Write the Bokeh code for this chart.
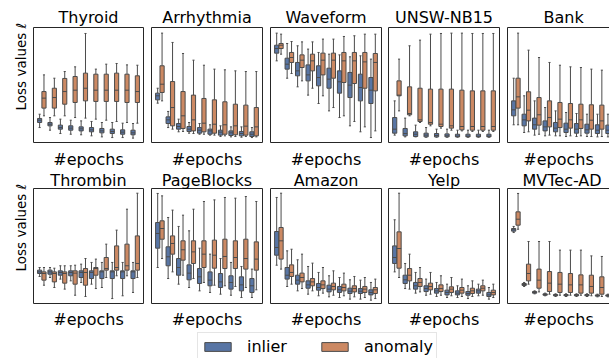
import numpy as np
from bokeh.plotting import figure
from bokeh.layouts import gridplot, column
from bokeh.models import ColumnDataSource, FixedTicker, Range1d, Legend, LegendItem, LinearAxis, Title
from bokeh.embed import file_html
from bokeh.resources import INLINE

# ---------------- data (lo whisker, Q1, median, Q3, hi whisker) per epoch ----------------
EPOCHS = [0, 1, 2, 3, 4, 5, 6, 7, 8, 9]
DATASETS = ["Thyroid", "Arrhythmia", "Waveform", "UNSW-NB15", "Bank",
            "Thrombin", "PageBlocks", "Amazon", "Yelp", "MVTec-AD"]
SERIES = ["inlier", "anomaly"]
COLORS = ["#5875a4", "#cc8963"]

THYROID_IN = [(13.0, 17.4, 19.4, 20.9, 24.6), (10.7, 14.5, 15.9, 17.4, 21.7), (7.8, 11.6, 13.0, 15.1, 20.3),
              (7.2, 10.7, 12.5, 14.5, 19.4), (6.7, 10.1, 11.9, 13.6, 18.8), (5.8, 9.3, 11.0, 13.0, 18.3),
              (4.9, 8.4, 10.1, 12.2, 17.4), (4.3, 7.8, 9.6, 11.6, 17.4), (4.3, 7.2, 9.0, 11.0, 16.8),
              (3.8, 6.7, 8.4, 10.7, 16.5)]
THYROID_AN = [(23.2, 29.9, 38.6, 44.3, 58.8), (23.2, 29.9, 39.1, 47.2, 55.9), (23.2, 33.3, 44.3, 55.7, 61.7),
              (21.7, 34.8, 45.5, 57.4, 65.8), (21.2, 36.2, 47.2, 60.3, 94.8), (20.3, 35.7, 45.5, 59.4, 63.8),
              (19.4, 35.7, 45.5, 59.4, 68.1), (18.3, 35.7, 45.5, 60.3, 68.7), (17.4, 34.8, 45.5, 59.4, 67.5),
              (16.8, 34.8, 44.3, 58.0, 67.2)]
ARRHYTHMIA_IN = [(34.2, 37.1, 40.6, 42.9, 47.2), (13.0, 16.5, 19.7, 22.3, 27.0), (9.3, 11.6, 13.9, 16.5, 20.3),
                 (8.1, 9.6, 11.6, 13.9, 17.4), (7.2, 8.1, 10.7, 13.0, 16.5), (6.4, 7.2, 10.1, 11.6, 15.4),
                 (5.2, 6.4, 9.0, 10.7, 14.5), (4.9, 6.1, 8.4, 10.1, 13.6), (4.6, 5.8, 7.8, 9.6, 13.6),
                 (4.3, 5.2, 7.2, 9.3, 13.0)]
ARRHYTHMIA_AN = [(36.2, 43.5, 50.7, 66.7, 95.1), (11.6, 14.5, 30.4, 53.0, 87.0), (9.6, 12.2, 23.2, 44.3, 77.4),
                 (7.8, 10.1, 19.7, 41.2, 71.6), (7.2, 9.3, 16.8, 38.3, 67.2), (6.4, 8.1, 15.9, 37.1, 63.8),
                 (5.8, 7.2, 15.4, 35.4, 63.2), (5.2, 6.7, 14.5, 33.3, 62.3), (5.2, 6.4, 14.2, 32.5, 61.7),
                 (4.9, 5.8, 13.6, 30.4, 61.7)]
WAVEFORM_IN = [(71.0, 77.7, 81.7, 84.6, 95.1), (55.9, 63.8, 68.1, 73.3, 86.1), (48.4, 58.0, 62.3, 69.6, 84.1),
               (41.2, 53.6, 58.8, 67.5, 81.2), (33.9, 49.3, 56.5, 66.7, 78.3), (27.5, 47.2, 55.1, 64.6, 76.8),
               (21.7, 42.9, 52.8, 62.3, 76.2), (14.5, 39.1, 49.9, 60.9, 74.5), (9.3, 36.2, 47.8, 59.4, 75.4),
               (4.3, 33.9, 45.5, 56.5, 72.5)]
WAVEFORM_AN = [(76.8, 81.7, 84.6, 86.1, 94.2), (60.0, 69.6, 73.9, 78.3, 87.8), (53.6, 65.2, 71.6, 76.2, 87.5),
               (47.2, 62.3, 71.0, 76.8, 87.5), (40.6, 58.8, 71.6, 77.7, 89.9), (30.4, 55.9, 71.6, 77.7, 89.9),
               (23.2, 52.2, 71.0, 78.3, 92.2), (18.3, 51.3, 71.0, 78.3, 92.8), (13.6, 47.2, 70.1, 78.3, 94.2),
               (10.1, 44.9, 69.6, 77.4, 94.2)]
UNSW_IN = [(6.4, 8.1, 11.6, 21.7, 36.2), (4.9, 5.8, 7.8, 12.2, 21.2), (4.9, 5.2, 7.2, 9.3, 15.1),
           (4.6, 4.9, 6.4, 8.1, 13.0), (4.6, 4.9, 6.1, 7.8, 11.6), (4.6, 4.9, 5.8, 7.5, 11.6),
           (4.6, 4.9, 5.5, 7.2, 10.7), (4.6, 4.9, 5.5, 7.2, 10.7), (4.6, 4.9, 5.5, 7.2, 10.7),
           (4.6, 4.9, 5.5, 7.2, 10.7)]
UNSW_AN = [(27.5, 40.6, 41.2, 53.6, 72.5), (23.2, 24.1, 25.2, 48.4, 84.1), (17.4, 18.3, 19.7, 47.2, 89.0),
           (14.5, 15.9, 17.4, 46.4, 94.2), (12.5, 13.9, 15.9, 46.4, 94.8), (10.7, 12.5, 14.5, 46.4, 95.1),
           (10.1, 11.0, 13.9, 45.5, 95.1), (9.6, 10.7, 13.9, 44.9, 94.8), (9.6, 10.7, 13.9, 44.9, 94.8),
           (9.6, 10.7, 13.9, 44.9, 94.8)]
BANK_IN = [(15.4, 23.2, 28.4, 36.2, 55.9), (8.7, 14.5, 19.7, 24.6, 40.6), (6.4, 11.6, 15.4, 21.2, 36.2),
           (5.8, 10.1, 13.6, 18.8, 30.4), (5.8, 9.3, 12.5, 17.4, 27.5), (5.2, 8.7, 11.6, 16.8, 26.1),
           (5.2, 8.1, 11.6, 16.5, 25.2), (5.2, 8.1, 11.0, 15.9, 24.6), (4.9, 7.8, 10.7, 15.4, 24.6),
           (4.9, 7.8, 10.7, 15.1, 24.6)]
BANK_AN = [(15.4, 29.9, 39.7, 55.9, 95.1), (9.3, 18.8, 28.1, 44.1, 80.3), (7.2, 15.1, 24.1, 39.1, 73.9),
           (6.4, 13.6, 21.7, 36.2, 69.6), (5.8, 13.0, 20.3, 34.8, 67.2), (5.8, 12.5, 19.7, 33.9, 65.8),
           (5.8, 12.2, 19.7, 33.3, 65.2), (5.2, 11.6, 19.4, 32.8, 63.8), (5.2, 11.6, 18.8, 32.5, 62.9),
           (5.2, 11.6, 18.8, 31.9, 62.3)]
THROMBIN_IN = [(23.5, 26.1, 27.5, 29.0, 31.3), (22.6, 25.5, 27.5, 29.0, 31.3), (21.2, 24.6, 27.0, 28.4, 32.8),
               (19.7, 24.1, 27.0, 28.4, 32.8), (18.3, 22.6, 27.0, 28.4, 34.2), (16.8, 21.7, 27.0, 28.4, 35.7),
               (13.9, 21.7, 27.5, 28.4, 35.7), (4.3, 21.7, 27.5, 28.4, 35.7), (6.7, 21.7, 27.5, 28.4, 35.7),
               (9.6, 21.7, 27.5, 28.4, 35.7)]
THROMBIN_AN = [(15.9, 20.3, 26.1, 27.5, 31.3), (13.9, 18.8, 26.1, 27.5, 30.7), (12.5, 17.7, 26.1, 27.5, 32.8),
               (7.2, 16.8, 26.4, 28.4, 33.3), (6.1, 15.9, 27.0, 30.4, 39.1), (13.0, 24.6, 30.4, 31.3, 38.6),
               (22.6, 29.0, 30.4, 40.0, 51.6), (24.1, 29.0, 31.3, 50.1, 63.8), (24.1, 29.0, 32.8, 51.6, 82.0),
               (22.6, 29.0, 34.8, 58.8, 95.9)]
PAGEBLOCKS_IN = [(31.3, 48.1, 60.9, 70.4, 95.7), (21.7, 32.8, 40.6, 49.3, 74.8), (16.8, 24.6, 31.3, 39.1, 67.0),
                 (13.9, 20.6, 26.4, 33.6, 63.2), (11.0, 17.4, 23.2, 30.4, 48.1), (9.6, 15.4, 20.3, 27.5, 42.9),
                 (8.1, 13.9, 18.8, 26.1, 39.1), (7.2, 12.5, 18.3, 24.1, 35.7), (5.2, 11.0, 16.2, 23.2, 32.2),
                 (5.2, 9.6, 15.4, 21.7, 29.9)]
PAGEBLOCKS_AN = [(39.1, 55.9, 65.2, 71.9, 93.6), (27.5, 42.9, 52.2, 58.8, 81.2), (24.6, 37.7, 46.7, 54.5, 76.8),
                 (21.7, 34.8, 44.9, 54.5, 82.0), (18.3, 31.3, 42.9, 54.5, 88.7), (15.9, 30.7, 42.0, 55.1, 90.1),
                 (15.4, 30.4, 40.9, 55.9, 92.2), (14.8, 30.4, 40.0, 54.5, 91.6), (13.9, 29.9, 39.1, 55.9, 93.0),
                 (11.9, 29.0, 38.6, 53.6, 88.7)]
AMAZON_IN = [(33.3, 42.0, 48.7, 62.6, 92.2), (14.8, 21.2, 24.6, 31.3, 45.8), (11.0, 16.8, 20.3, 24.6, 38.0),
             (8.1, 13.3, 16.2, 19.7, 32.2), (6.7, 11.6, 13.9, 17.4, 27.0), (5.8, 10.1, 12.5, 15.9, 24.1),
             (5.2, 9.6, 11.9, 14.8, 22.6), (3.8, 8.7, 10.7, 13.3, 20.6), (3.8, 8.7, 10.7, 13.0, 20.3),
             (2.9, 7.5, 9.6, 11.9, 18.3)]
AMAZON_AN = [(29.9, 38.6, 54.5, 66.1, 95.9), (16.8, 23.5, 27.0, 33.6, 47.2), (13.0, 18.8, 22.6, 26.4, 42.9),
             (11.0, 15.4, 18.8, 21.7, 35.1), (9.0, 13.0, 16.2, 19.7, 31.3), (7.2, 11.9, 14.8, 17.7, 28.4),
             (6.7, 11.0, 13.9, 16.8, 26.4), (5.8, 10.1, 13.0, 15.4, 23.5), (5.2, 9.6, 12.5, 14.8, 22.6),
             (4.3, 8.7, 11.9, 13.9, 21.2)]
YELP_IN = [(27.5, 34.8, 40.0, 50.1, 72.8), (13.0, 17.4, 20.6, 24.6, 34.8), (9.0, 12.5, 15.4, 18.3, 27.0),
           (7.2, 10.4, 13.0, 15.4, 21.2), (6.1, 9.0, 11.0, 13.0, 18.3), (5.2, 7.5, 9.6, 11.6, 16.8),
           (5.2, 7.5, 9.0, 11.0, 15.4), (4.3, 7.2, 8.7, 10.4, 15.4), (6.7, 9.0, 11.0, 12.5, 16.8),
           (3.8, 6.1, 7.5, 9.6, 13.9)]
YELP_AN = [(22.6, 30.7, 47.8, 62.3, 95.9), (12.5, 19.7, 24.6, 30.4, 42.9), (10.1, 14.8, 18.3, 21.7, 31.3),
           (8.1, 11.9, 14.8, 17.7, 27.0), (7.2, 10.4, 13.0, 16.2, 24.1), (6.7, 9.6, 12.5, 14.5, 22.6),
           (6.1, 9.0, 11.6, 13.9, 21.2), (6.1, 8.7, 11.0, 13.3, 19.7), (7.2, 11.0, 13.3, 15.4, 20.3),
           (5.2, 7.5, 9.6, 11.6, 16.8)]
MVTEC_IN = [(61.7, 62.9, 64.1, 65.2, 67.0), (14.8, 15.7, 16.5, 17.4, 18.3), (8.4, 9.0, 9.6, 10.4, 11.0),
            (6.7, 7.2, 7.8, 8.4, 9.0), (6.1, 6.7, 7.2, 7.8, 8.4), (6.1, 6.7, 7.2, 7.8, 8.4),
            (6.1, 6.7, 7.2, 7.8, 8.4), (6.1, 6.7, 7.2, 7.8, 8.4), (5.8, 6.4, 7.0, 7.5, 8.1),
            (5.8, 6.4, 7.0, 7.5, 8.1)]
MVTEC_AN = [(64.6, 68.1, 73.3, 79.7, 95.7), (16.8, 19.7, 26.1, 34.2, 53.9), (10.1, 13.3, 20.3, 29.9, 53.9),
            (8.1, 10.4, 17.7, 27.8, 53.9), (7.2, 9.6, 16.8, 27.0, 46.4), (7.2, 9.6, 16.2, 26.1, 46.4),
            (7.2, 9.0, 16.2, 24.9, 46.4), (6.7, 9.0, 14.8, 24.6, 41.4), (6.1, 8.1, 13.9, 23.2, 40.9),
            (6.1, 8.1, 13.9, 23.2, 40.0)]

PANEL_DATA = [(THYROID_IN, THYROID_AN), (ARRHYTHMIA_IN, ARRHYTHMIA_AN), (WAVEFORM_IN, WAVEFORM_AN),
              (UNSW_IN, UNSW_AN), (BANK_IN, BANK_AN), (THROMBIN_IN, THROMBIN_AN),
              (PAGEBLOCKS_IN, PAGEBLOCKS_AN), (AMAZON_IN, AMAZON_AN), (YELP_IN, YELP_AN),
              (MVTEC_IN, MVTEC_AN)]

# ---------------- styling / layout ----------------
FONT = "DejaVu Sans"
LINE = "#4b4b4b"
OUTLINE = "#262626"
FRAME_W = [110, 111, 111, 111, 102]
FRAME_H = 115
X_RANGES = [(-0.8, 9.8)] * 4 + [(-0.8, 8.94)]
MIN_LEFT = [33, 4, 4, 3, 4]
MIN_RIGHT = [4, 4, 4, 4, 0]
MIN_TOP = [27, 0]
MIN_BOTTOM = [0, 0]
TITLE_STANDOFF = [0, -4]
XLABEL_STANDOFF = [7, 6]
TITLE_OFFSET_LAST = {"Bank": 36, "MVTec-AD": 15}
DODGE = 0.21
BOXW = 0.4


def box_source(stats, offset):
    a = np.array(stats, dtype=float)
    x = np.array(EPOCHS, dtype=float) + offset
    return ColumnDataSource(dict(x=x, lo=a[:, 0], q1=a[:, 1], med=a[:, 2], q3=a[:, 3], hi=a[:, 4],
                                 cl=x - BOXW / 4, cr=x + BOXW / 4, ml=x - BOXW / 2, mr=x + BOXW / 2))


def no_ticks(ax):
    ax.ticker = FixedTicker(ticks=[])
    ax.major_tick_out = 0
    ax.major_tick_in = 0
    ax.minor_tick_out = 0
    ax.minor_tick_in = 0
    ax.major_label_standoff = 0


def make_panel(idx):
    r, c = divmod(idx, 5)
    p = figure(frame_width=FRAME_W[c], frame_height=FRAME_H,
               x_range=Range1d(*X_RANGES[c]), y_range=Range1d(0, 100),
               output_backend="svg", toolbar_location=None, tools="",
               min_border_left=MIN_LEFT[c], min_border_right=MIN_RIGHT[c],
               min_border_top=MIN_TOP[r], min_border_bottom=MIN_BOTTOM[r])
    name = DATASETS[idx]
    p.title.text = name
    p.title.text_font = FONT
    p.title.text_font_size = "16px"
    p.title.text_font_style = "normal"
    p.title.text_color = "black"
    p.title.vertical_align = "middle"
    p.title.standoff = TITLE_STANDOFF[r]
    if c == 4:
        p.title.align = "left"
        p.title.offset = TITLE_OFFSET_LAST[name]
    else:
        p.title.align = "center"
    p.grid.visible = False
    p.background_fill_color = "white"
    p.outline_line_color = OUTLINE
    p.outline_line_width = 1

    no_ticks(p.xaxis[0])
    p.xaxis.axis_line_color = None
    p.xaxis.axis_label = "#epochs"
    p.xaxis.axis_label_text_font = FONT
    p.xaxis.axis_label_text_font_size = "16px"
    p.xaxis.axis_label_text_font_style = "normal"
    p.xaxis.axis_label_text_color = "black"
    p.xaxis.axis_label_standoff = XLABEL_STANDOFF[r]

    no_ticks(p.yaxis[0])
    p.yaxis.axis_line_color = None
    if c == 0:
        p.yaxis.visible = False
        ylab = Title(text="Loss values \u2113", align="left", offset=32, standoff=8,
                     vertical_align="middle",
                     text_font=FONT, text_font_size="13.5px", text_font_style="normal",
                     text_color="black")
        p.add_layout(ylab, "left")
    elif c == 4:
        # right-hand panel is cut off by the picture's edge: no right border
        p.outline_line_color = None
        p.yaxis.axis_line_color = OUTLINE
        p.xaxis.axis_line_color = OUTLINE
        top = LinearAxis()
        no_ticks(top)
        top.axis_line_color = OUTLINE
        p.add_layout(top, "above")
    else:
        p.yaxis.visible = False

    for stats, color, off in zip(PANEL_DATA[idx], COLORS, (-DODGE, DODGE)):
        src = box_source(stats, off)
        p.segment("x", "lo", "x", "q1", source=src, line_color=LINE, line_width=1)
        p.segment("x", "q3", "x", "hi", source=src, line_color=LINE, line_width=1)
        p.segment("cl", "lo", "cr", "lo", source=src, line_color=LINE, line_width=1)
        p.segment("cl", "hi", "cr", "hi", source=src, line_color=LINE, line_width=1)
        p.vbar(x="x", width=BOXW, bottom="q1", top="q3", source=src,
               fill_color=color, line_color=LINE, line_width=1)
        p.segment("ml", "med", "mr", "med", source=src, line_color=LINE, line_width=1)
    return p


panels = [make_panel(i) for i in range(10)]
grid = gridplot([panels[:5], panels[5:]], toolbar_location=None)

# legend strip (legend-only renderers: a single NaN row so that the swatch is drawn, no mark)
lg = figure(width=609, height=27, output_backend="svg", toolbar_location=None, tools="",
            x_axis_location=None, y_axis_location=None, min_border=0,
            x_range=Range1d(0, 1), y_range=Range1d(0, 1))
lg.outline_line_color = None
lg.grid.visible = False
items = []
for name, color in zip(SERIES, COLORS):
    rr = lg.vbar(x=[np.nan], top=[np.nan], bottom=[np.nan], width=0.1,
                 fill_color=color, line_color=LINE, line_width=1)
    items.append(LegendItem(label=name, renderers=[rr]))
legend = Legend(items=items, orientation="horizontal", location=(197, -2),
                glyph_width=33, glyph_height=11, label_standoff=13, spacing=31, padding=3,
                label_height=20, label_text_font=FONT, label_text_font_size="16px",
                label_text_color="black", border_line_color="#cccccc", border_line_width=1,
                background_fill_color="white", background_fill_alpha=1.0, margin=0)
lg.add_layout(legend, "center")

layout = column(grid, lg)
open("out.html", "w").write(file_html(layout, INLINE))
